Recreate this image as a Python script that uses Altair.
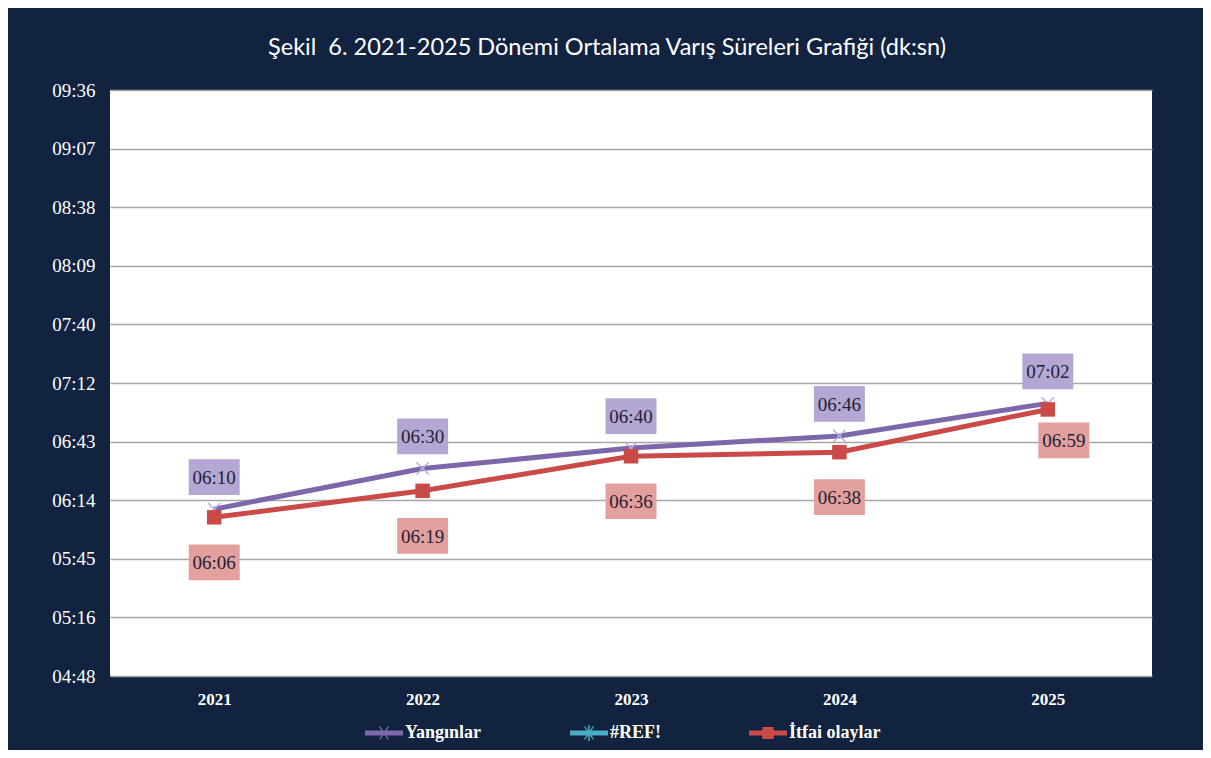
import altair as alt
import pandas as pd

# ---- data ----
years = ["2021", "2022", "2023", "2024", "2025"]
yanginlar = ["06:10", "06:30", "06:40", "06:46", "07:02"]
itfai = ["06:06", "06:19", "06:36", "06:38", "06:59"]
series_names = ["Yangınlar", "#REF!", "İtfai olaylar"]
y_ticks = [288, 316.8, 345.6, 374.4, 403.2, 432, 460.8, 489.6, 518.4, 547.2, 576]
title_text = "Şekil \u00a06. 2021-2025 Dönemi Ortalama Varış Süreleri Grafiği (dk:sn)"


def to_sec(s):
    m, s2 = s.split(":")
    return int(m) * 60 + int(s2)


rows = []
for yr, a, b in zip(years, yanginlar, itfai):
    rows.append({"year": yr, "series": "Yangınlar", "sec": to_sec(a), "label": a})
    rows.append({"year": yr, "series": "İtfai olaylar", "sec": to_sec(b), "label": b})
df = pd.DataFrame(rows)

BG = "#12233F"
PURPLE = "#7E66AA"
CYAN = "#4BACC6"
RED = "#C94A47"
BOX_P = "#B5A7D4"
BOX_R = "#E3A09E"
TXT = "#231F33"
SERIF = "Liberation Serif"

BOX = "M-1,-0.7L1,-0.7L1,0.7L-1,0.7Z"
XMARK = "M-1,-1L1,1M-1,1L1,-1"
LEG_X = ("M-1,-0.13L1,-0.13L1,0.13L-1,0.13Z "
         "M-0.27,-0.34L-0.19,-0.34L0.27,0.34L0.19,0.34Z "
         "M0.19,-0.34L0.27,-0.34L-0.19,0.34L-0.27,0.34Z")
LEG_AST = LEG_X + " M-0.04,-0.42L0.04,-0.42L0.04,0.42L-0.04,0.42Z"
LEG_SQ = ("M-1,-0.13L1,-0.13L1,0.13L-1,0.13Z "
          "M-0.3,-0.32L0.3,-0.32L0.3,0.32L-0.3,0.32Z")

label_expr = ("format(floor(datum.value/60+1e-9),'02d') + ':' + "
              "format(floor(datum.value%60+1e-6),'02d')")

x_enc = alt.X("year:O", scale=alt.Scale(domain=years),
              axis=alt.Axis(title=None, labelAngle=0, labelFont=SERIF,
                            labelFontSize=17, labelFontWeight="bold",
                            labelColor="white", domain=False, ticks=False,
                            labelPadding=15, grid=False))
y_enc = alt.Y("sec:Q", scale=alt.Scale(domain=[288, 576], nice=False, zero=False),
              axis=alt.Axis(title=None, values=y_ticks, labelExpr=label_expr,
                            labelFont=SERIF, labelFontSize=19, labelColor="white",
                            domain=False, ticks=False, labelPadding=15,
                            grid=True, gridColor="#A6A6A6", gridWidth=1.6))

base = alt.Chart(df).encode(x=x_enc, y=y_enc)

lines = base.mark_line(strokeWidth=5).encode(
    stroke=alt.Stroke("series:N",
                      scale=alt.Scale(domain=series_names, range=[PURPLE, CYAN, RED]),
                      legend=None))

xmarks = base.transform_filter("datum.series == 'Yangınlar'").mark_point(
    shape=XMARK, filled=False, size=150, strokeWidth=1.5, color="#BBAEDC", opacity=1)

sqmarks = base.transform_filter("datum.series == 'İtfai olaylar'").mark_point(
    shape="square", filled=True, size=210, color=RED, opacity=1)

yb = base.transform_filter("datum.series == 'Yangınlar'")
yboxes = yb.mark_point(shape=BOX, filled=True, size=2601, color=BOX_P,
                       opacity=1, strokeWidth=0, yOffset=-32)
ytext = yb.mark_text(font=SERIF, fontSize=19, color=TXT, baseline="middle",
                     align="center", yOffset=-31).encode(text="label:N")

ib = base.transform_filter("datum.series == 'İtfai olaylar' && datum.year != '2025'")
iboxes = ib.mark_point(shape=BOX, filled=True, size=2601, color=BOX_R,
                       opacity=1, strokeWidth=0, yOffset=45)
itext = ib.mark_text(font=SERIF, fontSize=19, color=TXT, baseline="middle",
                     align="center", yOffset=46).encode(text="label:N")

il = base.transform_filter("datum.series == 'İtfai olaylar' && datum.year == '2025'")
ilbox = il.mark_point(shape=BOX, filled=True, size=2601, color=BOX_R,
                      opacity=1, strokeWidth=0, xOffset=16, yOffset=31)
iltext = il.mark_text(font=SERIF, fontSize=19, color=TXT, baseline="middle",
                      align="center", xOffset=16, yOffset=32).encode(text="label:N")

leg = alt.Legend(title=None, orient="none", legendX=255, legendY=624,
                 direction="horizontal", columnPadding=88, labelFont=SERIF,
                 labelFontSize=18, labelFontWeight="bold", labelColor="white",
                 symbolSize=1444, labelOffset=2, symbolStrokeWidth=0,
                 symbolOpacity=1)

legend_layer = base.mark_point(filled=True, opacity=0).encode(
    color=alt.Color("series:N",
                    scale=alt.Scale(domain=series_names, range=[PURPLE, CYAN, RED]),
                    legend=leg),
    shape=alt.Shape("series:N",
                    scale=alt.Scale(domain=series_names, range=[LEG_X, LEG_AST, LEG_SQ]),
                    legend=leg))

chart = alt.layer(legend_layer, lines, xmarks, sqmarks, yboxes, iboxes, ilbox,
                  ytext, itext, iltext).properties(
    width=1042, height=586,
    title=alt.TitleParams(text=title_text, font="Lato", fontSize=23.5, color="white",
                          fontWeight="normal", anchor="middle", dx=-24, offset=3,
                          baseline="alphabetic"),
    background=BG,
    padding={"left": 102, "top": 82, "right": 51, "bottom": 74},
    autosize=alt.AutoSizeParams(type="none"),
).configure_view(fill="white", stroke=None)

chart.save("out.html", embed_options={"renderer": "svg", "actions": False})
